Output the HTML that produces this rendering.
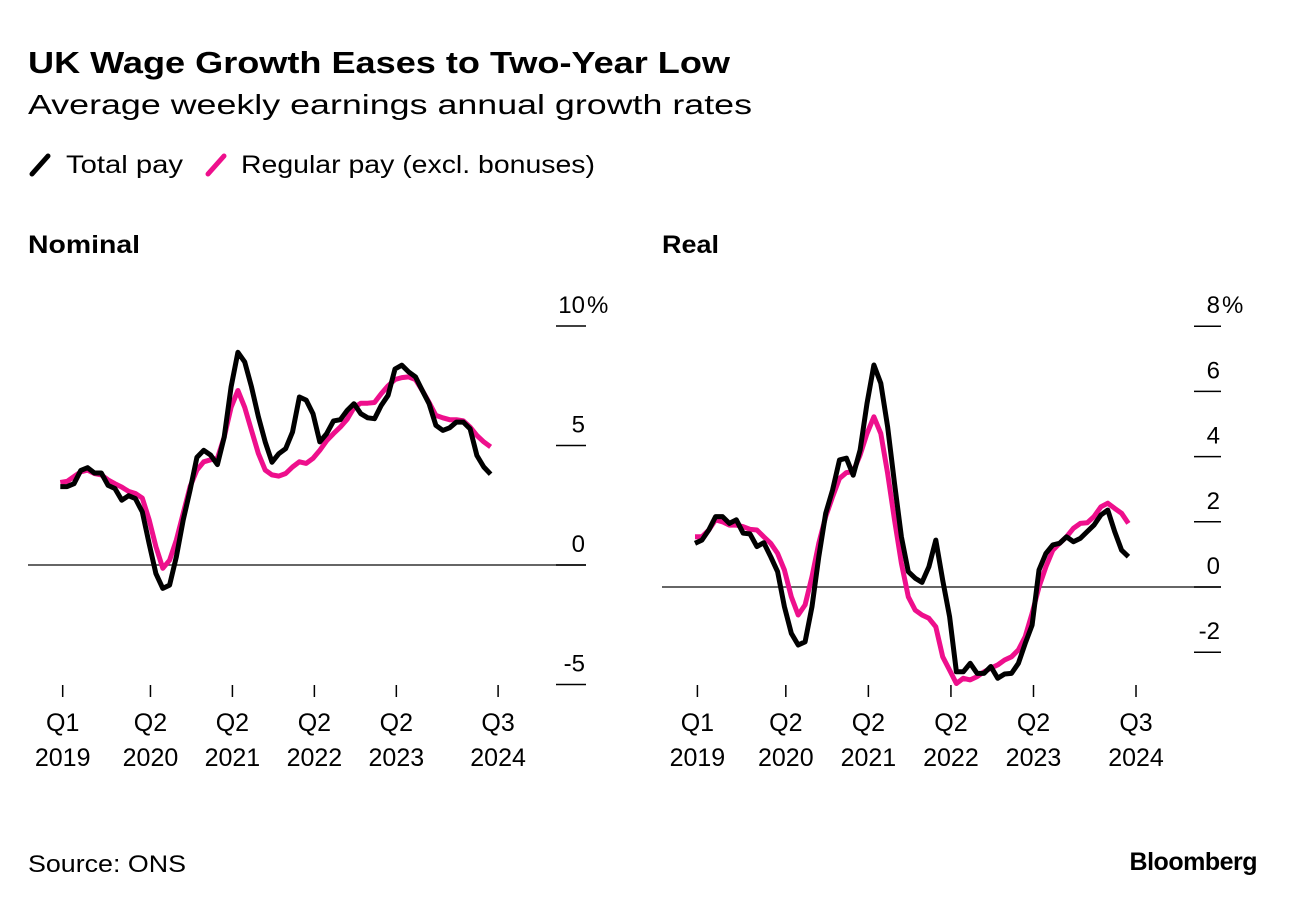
<!DOCTYPE html>
<html><head><meta charset="utf-8">
<style>
body{margin:0;background:#fff;width:1296px;height:906px;overflow:hidden;font-family:"Liberation Sans",Arial,sans-serif;}
svg text{font-family:"Liberation Sans",Arial,sans-serif;fill:#000;}
</style></head>
<body>
<svg id="chart" width="1296" height="906" viewBox="0 0 1296 906" xmlns="http://www.w3.org/2000/svg">
  <text x="28" y="73" font-size="31" font-weight="bold" textLength="702" lengthAdjust="spacingAndGlyphs">UK Wage Growth Eases to Two-Year Low</text>
  <text x="28" y="114" font-size="28" textLength="724" lengthAdjust="spacingAndGlyphs">Average weekly earnings annual growth rates</text>
  <g>
    <g>
      <line x1="32" y1="174" x2="48" y2="156" stroke="#000" stroke-width="5" stroke-linecap="round"/>
      <text x="66" y="173" font-size="25" textLength="117" lengthAdjust="spacingAndGlyphs">Total pay</text>
    </g>
    <g>
      <line x1="208" y1="174" x2="224" y2="156" stroke="#ee0f8c" stroke-width="5" stroke-linecap="round"/>
      <text x="241" y="173" font-size="25" textLength="354" lengthAdjust="spacingAndGlyphs">Regular pay (excl. bonuses)</text>
    </g>
  </g>
  <text x="28" y="253" font-size="25" font-weight="bold" textLength="112" lengthAdjust="spacingAndGlyphs">Nominal</text>
  <text x="662" y="253" font-size="25" font-weight="bold" textLength="57" lengthAdjust="spacingAndGlyphs">Real</text>
  <g id="nominal"></g>
  <g id="real"></g>
  <text x="28" y="872" font-size="24" textLength="158" lengthAdjust="spacingAndGlyphs">Source: ONS</text>
  <text x="1257" y="870" font-size="25" font-weight="bold" text-anchor="end" letter-spacing="-0.5">Bloomberg</text>
</svg>
<script>
const xTickPos = [0.35, 13.2, 25.2, 37.2, 49.2, 64.1];
const xTickQ = ["Q1","Q2","Q2","Q2","Q2","Q3"];
const xTickYear = ["2019","2020","2021","2022","2023","2024"];

const nomTotal = [3.28,3.28,3.4,3.96,4.07,3.85,3.85,3.33,3.2,2.71,2.9,2.78,2.22,0.9,-0.36,-0.98,-0.84,0.35,1.88,3.14,4.5,4.8,4.6,4.2,5.35,7.45,8.9,8.5,7.45,6.2,5.15,4.3,4.66,4.87,5.56,7.03,6.9,6.33,5.15,5.5,6.03,6.08,6.47,6.75,6.33,6.16,6.12,6.68,7.1,8.2,8.36,8.08,7.87,7.3,6.75,5.84,5.63,5.74,5.98,5.98,5.7,4.58,4.1,3.8];
const nomRegular = [3.45,3.5,3.7,3.9,3.97,3.83,3.77,3.56,3.4,3.26,3.08,2.99,2.8,1.9,0.77,-0.14,0.2,1.05,2.16,3.28,3.97,4.32,4.4,4.46,5.35,6.6,7.3,6.6,5.63,4.66,3.97,3.77,3.72,3.83,4.1,4.32,4.25,4.46,4.8,5.2,5.5,5.77,6.1,6.58,6.77,6.77,6.8,7.17,7.5,7.76,7.84,7.87,7.76,7.3,6.8,6.26,6.16,6.08,6.08,6.03,5.77,5.42,5.15,4.94];
const nomTicks = [10,5,0,-5];
const nomTickLabels = ["10","5","0","-5"];

const realTotal = [1.34,1.44,1.75,2.16,2.16,1.95,2.06,1.65,1.63,1.24,1.36,0.93,0.47,-0.6,-1.42,-1.78,-1.68,-0.6,0.93,2.26,2.98,3.9,3.95,3.43,4.2,5.63,6.81,6.25,4.92,3.18,1.54,0.47,0.27,0.14,0.62,1.44,0.21,-0.91,-2.6,-2.6,-2.34,-2.65,-2.65,-2.44,-2.8,-2.67,-2.65,-2.34,-1.73,-1.17,0.52,1.03,1.29,1.34,1.54,1.39,1.49,1.7,1.9,2.21,2.36,1.7,1.13,0.93];
const realRegular = [1.54,1.54,1.75,2.06,2.0,1.9,1.9,1.85,1.77,1.75,1.54,1.34,1.03,0.52,-0.3,-0.86,-0.55,0.32,1.34,2.16,2.77,3.33,3.51,3.54,4.05,4.71,5.22,4.71,3.49,2.06,0.73,-0.3,-0.71,-0.86,-0.96,-1.22,-2.14,-2.55,-2.96,-2.8,-2.85,-2.75,-2.6,-2.49,-2.39,-2.24,-2.14,-1.93,-1.52,-0.81,0,0.62,1.13,1.34,1.54,1.8,1.95,1.97,2.16,2.46,2.57,2.41,2.26,1.95];
const realTicks = [8,6,4,2,0,-2];
const realTickLabels = ["8","6","4","2","0","-2"];

const NS = "http://www.w3.org/2000/svg";
function mk(tag, attrs, parent){const e=document.createElementNS(NS,tag);for(const k in attrs)e.setAttribute(k,attrs[k]);parent.appendChild(e);return e;}

function drawPanel(g, cfg){
  const x = i => cfg.x0 + i*cfg.dx;
  const y = v => cfg.y0 - v*cfg.dy;
  const zl = mk("line",{x1:cfg.left,x2:cfg.tickX1,y1:y(0),y2:y(0),stroke:"#333","stroke-width":1.5},g);
  
  
  cfg.ticks.forEach((t,k)=>{
    const tl = mk("line",{x1:cfg.tickX0,x2:cfg.tickX1,y1:y(t),y2:y(t),stroke:"#000","stroke-width":1.5},g);
    
    
    const tx = mk("text",{x:cfg.tickX1-1,y:y(t)-13,"font-size":24,"text-anchor":"end"},g);
    tx.textContent = cfg.labels[k];
    
    
    if(k===0){
      const p = mk("text",{x:cfg.tickX1+1,y:y(t)-13,"font-size":24},g);
      p.textContent="%";
      
      
    }
  });
  xTickPos.forEach((p,k)=>{
    const xx = x(p);
    const l = mk("line",{x1:xx,x2:xx,y1:cfg.xTickY,y2:cfg.xTickY+12,stroke:"#000","stroke-width":1.5},g);
    
    
    const t1 = mk("text",{x:xx,y:cfg.xTickY+46,"font-size":25,"text-anchor":"middle"},g);
    t1.textContent = xTickQ[k];
    
    
    const t2 = mk("text",{x:xx,y:cfg.xTickY+81,"font-size":25,"text-anchor":"middle"},g);
    t2.textContent = xTickYear[k];
    
    
  });
  const path = arr => arr.map((v,i)=>(i?"L":"M")+x(i).toFixed(1)+","+y(v).toFixed(1)).join("");
  const pr = mk("path",{d:path(cfg.regular),fill:"none",stroke:"#ee0f8c","stroke-width":5,"stroke-linejoin":"round"},g);
  
  
  const pt = mk("path",{d:path(cfg.total),fill:"none",stroke:"#000","stroke-width":5,"stroke-linejoin":"round"},g);
  
  
}

drawPanel(document.getElementById("nominal"),{x0:60.3,dx:6.83,y0:565,dy:23.9,left:28,tickX0:556,tickX1:586,xTickY:685,ticks:nomTicks,labels:nomTickLabels,total:nomTotal,regular:nomRegular});
drawPanel(document.getElementById("real"),{x0:695,dx:6.88,y0:587,dy:32.6,left:662,tickX0:1194,tickX1:1221,xTickY:685,ticks:realTicks,labels:realTickLabels,total:realTotal,regular:realRegular});
</script>
</body></html>
